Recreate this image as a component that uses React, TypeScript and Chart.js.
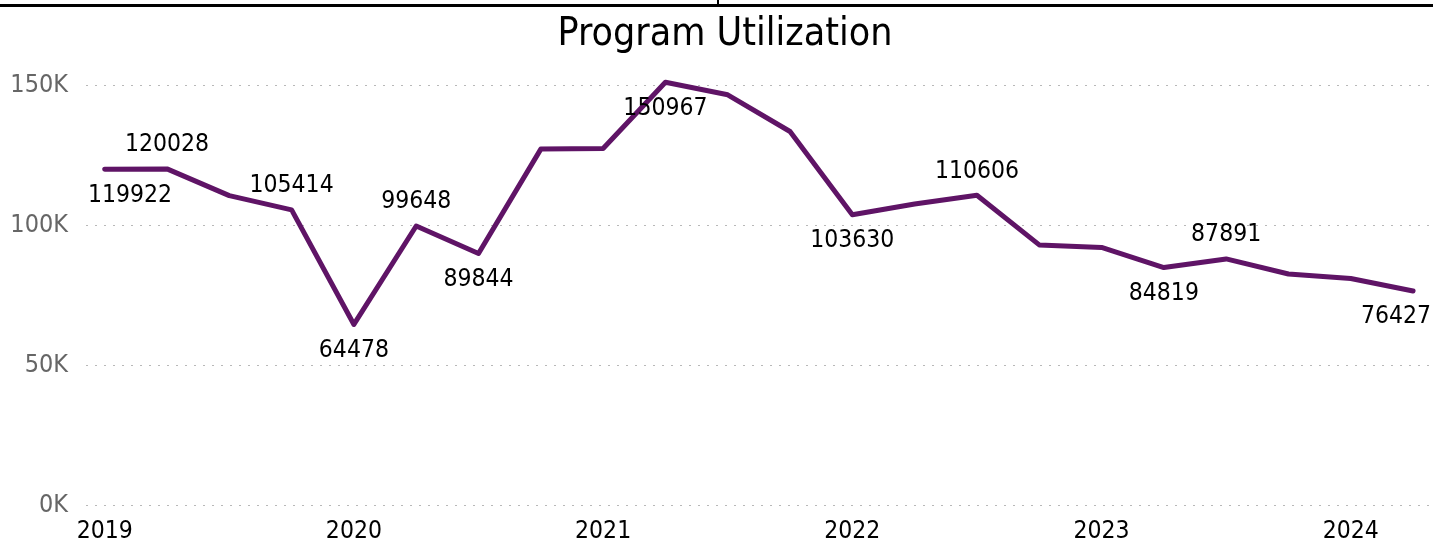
import React, { useEffect, useRef } from "react";
import { Chart, registerables } from "chart.js";

Chart.register(...registerables);

const chartTitle = "Program Utilization";
const quarterIndex = [0, 1, 2, 3, 4, 5, 6, 7, 8, 9, 10, 11, 12, 13, 14, 15, 16, 17, 18, 19, 20, 21];
const utilization = [
  119922, 120028, 110500, 105414, 64478, 99648, 89844, 127100, 127300, 150967, 146500,
  133400, 103630, 107500, 110606, 92900, 92000, 84819, 87891, 82500, 80900, 76427,
];
// which points carry a data label, and where
const labelPlacement = [
  "below", "above", "", "above", "below", "above", "below", "", "", "below", "",
  "", "below", "", "above", "", "", "below", "above", "", "", "below",
];
const yearTickPositions = [0, 4, 8, 12, 16, 20];
const yearTickLabels = ["2019", "2020", "2021", "2022", "2023", "2024"];
const yTickValues = [0, 50000, 100000, 150000];

const FONT = "'DejaVu Sans Condensed', 'DejaVu Sans', sans-serif";
const LINE_COLOR = "#5f1466";

const titlePlugin = {
  id: "customTitle",
  afterDraw(chart: any) {
    const ctx = chart.ctx;
    ctx.save();
    ctx.font = `39px ${FONT}`;
    ctx.fillStyle = "#000";
    ctx.textAlign = "center";
    ctx.textBaseline = "middle";
    ctx.fillText(chartTitle, 725, 35);
    ctx.restore();
  },
};

const dataLabelPlugin = {
  id: "pointLabels",
  afterDatasetsDraw(chart: any) {
    const ctx = chart.ctx;
    const meta = chart.getDatasetMeta(0);
    const area = chart.chartArea;
    ctx.save();
    ctx.font = `24.5px ${FONT}`;
    ctx.fillStyle = "#000";
    ctx.textAlign = "center";
    ctx.textBaseline = "middle";
    labelPlacement.forEach((place, i) => {
      if (!place) return;
      const pt = meta.data[i];
      const text = String(utilization[i]);
      const w = ctx.measureText(text).width;
      let x = pt.x;
      x = Math.max(x, area.left + 2 + w / 2);
      x = Math.min(x, chart.width - 2 - w / 2);
      const y = place === "above" ? pt.y - 24 : pt.y + 26;
      ctx.fillText(text, x, y);
    });
    ctx.restore();
  },
};

export default function App() {
  const canvasRef = useRef<HTMLCanvasElement | null>(null);

  useEffect(() => {
    if (!canvasRef.current) return;
    const chart = new Chart(canvasRef.current, {
      type: "line",
      data: {
        datasets: [
          {
            data: quarterIndex.map((q, i) => ({ x: q, y: utilization[i] })),
            borderColor: LINE_COLOR,
            backgroundColor: LINE_COLOR,
            borderWidth: 5,
            pointRadius: 0,
            tension: 0,
            borderCapStyle: "round",
            borderJoinStyle: "round",
          },
        ],
      },
      options: {
        responsive: false,
        animation: false,
        layout: { padding: { top: 57, left: 0, right: 0, bottom: 0 } },
        plugins: {
          legend: { display: false },
          title: { display: false },
          tooltip: { enabled: false },
        },
        scales: {
          x: {
            type: "linear",
            min: -0.3,
            max: 21.32,
            grid: { display: false, drawTicks: false },
            border: { display: false },
            afterBuildTicks(scale: any) {
              scale.ticks = yearTickPositions.map((v) => ({ value: v }));
            },
            afterFit(scale: any) {
              scale.height = 45;
            },
            ticks: {
              autoSkip: false,
              maxRotation: 0,
              padding: 12,
              color: "#000",
              font: { family: FONT, size: 24.5 },
              callback: (v: any) => {
                const idx = yearTickPositions.indexOf(Number(v));
                return idx >= 0 ? yearTickLabels[idx] : "";
              },
            },
          },
          y: {
            min: 0,
            max: 160000,
            grid: { color: "#b8b8b8", lineWidth: 1, drawTicks: false },
            border: { display: false, dash: [2, 7] },
            afterBuildTicks(scale: any) {
              scale.ticks = yTickValues.map((v) => ({ value: v }));
            },
            afterFit(scale: any) {
              scale.width = 86;
            },
            ticks: {
              padding: 18,
              color: "#666666",
              font: { family: FONT, size: 25 },
              callback: (v: any) => `${Math.round(Number(v) / 1000)}K`,
            },
          },
        },
      },
      plugins: [titlePlugin, dataLabelPlugin],
    } as any);
    return () => chart.destroy();
  }, []);

  return (
    <div style={{ position: "absolute", left: 0, top: 0, width: 1433, height: 550, background: "#fff" }}>
      <div style={{ position: "absolute", left: 0, top: 4, width: 1433, height: 3, background: "#000" }} />
      <div style={{ position: "absolute", left: 717, top: 0, width: 2, height: 5, background: "#000" }} />
      <canvas ref={canvasRef} width={1433} height={550} style={{ position: "absolute", left: 0, top: 0 }} />
    </div>
  );
}
